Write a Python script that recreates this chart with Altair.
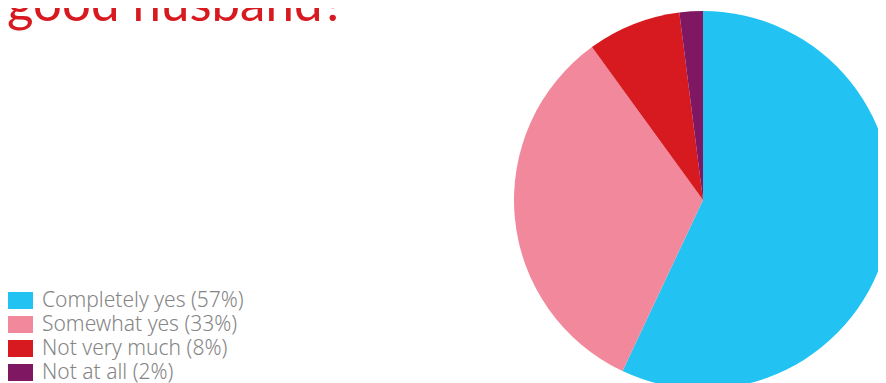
import altair as alt
import pandas as pd

categories = ["Completely yes (57%)", "Somewhat yes (33%)", "Not very much (8%)", "Not at all (2%)"]
values = [57, 33, 8, 2]
colors = ["#22C3F2", "#F2889B", "#D71920", "#7F1763"]
title_text = ["good husband?"]

df = pd.DataFrame({"cat": categories, "val": values, "ord": list(range(len(values)))})
tdf = pd.DataFrame({"t": title_text})

W, H = 870, 376

pie = alt.Chart(df).mark_arc(radius=189, stroke=None).encode(
    theta=alt.Theta("val:Q", stack=True),
    order=alt.Order("ord:Q"),
    color=alt.Color(
        "cat:N",
        scale=alt.Scale(domain=categories, range=colors),
        sort=categories,
        legend=alt.Legend(
            title=None,
            orient="none",
            legendX=1,
            legendY=282,
            padding=0,
            symbolType="M-1.59,-1H1.59V1H-1.59Z",
            symbolSize=289,
            symbolStrokeWidth=0,
            labelFont="Noto Sans",
            labelFontWeight=300,
            labelFontSize=21,
            labelColor="#858585",
            labelOffset=12,
            rowPadding=2,
            labelLimit=400,
        ),
    ),
    x=alt.value(695),
    y=alt.value(192),
)

title = alt.Chart(tdf).mark_text(
    align="left", baseline="alphabetic", font="Lato", fontWeight=400,
    fontSize=51, color="#D71920"
).encode(text="t:N", x=alt.value(-1), y=alt.value(13))

chart = alt.layer(pie, title).properties(
    width=W, height=H, autosize=alt.AutoSizeParams(type="none"), padding=0
).configure_view(stroke=None)

chart.save("out.html", embed_options={"renderer": "svg", "actions": False})
